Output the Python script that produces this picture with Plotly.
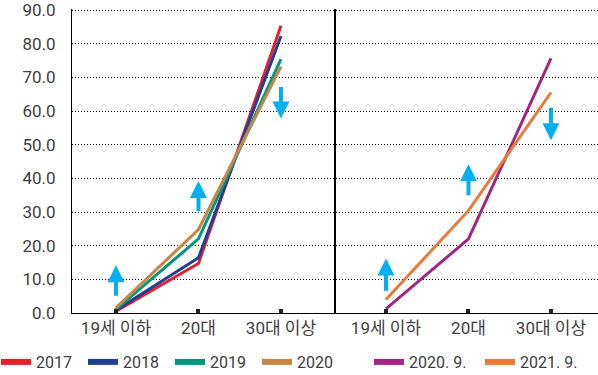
import plotly.graph_objects as go

categories = ["19세 이하", "20대", "30대 이상"]

left_names = ["2017", "2018", "2019", "2020"]
left_values = {
    "2017": [0.5, 14.7, 85.3],
    "2018": [0.8, 16.4, 82.3],
    "2019": [1.1, 22.0, 75.4],
    "2020": [1.5, 24.8, 73.2],
}
right_names = ["2020. 9.", "2021. 9."]
right_values = {
    "2020. 9.": [1.2, 22.0, 75.6],
    "2021. 9.": [4.0, 30.4, 65.5],
}
colors = {
    "2017": "#E3202B",
    "2018": "#233F95",
    "2019": "#00987A",
    "2020": "#C6864A",
    "2020. 9.": "#A1267F",
    "2021. 9.": "#E87B38",
}

y_ticks = [0, 10, 20, 30, 40, 50, 60, 70, 80, 90]
y_tick_labels = [f"{v:.1f}" for v in y_ticks]

# trend arrows: (category index, tail value, tip value)
left_arrows = [(0, 4.7, 14.2), (1, 29.8, 39.2), (2, 67.6, 57.8)]
right_arrows = [(0, 6.2, 16.2), (1, 34.5, 44.2), (2, 61.4, 51.3)]

FONT = "Roboto, Noto Sans CJK KR"
TXT = "#404040"

fig = go.Figure()
for n in left_names:
    fig.add_trace(go.Scatter(x=categories, y=left_values[n], mode="lines",
                             line=dict(color=colors[n], width=3), showlegend=False,
                             xaxis="x", yaxis="y"))
for n in right_names:
    fig.add_trace(go.Scatter(x=categories, y=right_values[n], mode="lines",
                             line=dict(color=colors[n], width=3), showlegend=False,
                             xaxis="x2", yaxis="y2"))
# legend entries
for n in left_names:
    fig.add_trace(go.Scatter(x=[None], y=[None], mode="lines", name=n,
                             line=dict(color=colors[n], width=6), legend="legend",
                             xaxis="x", yaxis="y"))
for n in right_names:
    fig.add_trace(go.Scatter(x=[None], y=[None], mode="lines", name=n,
                             line=dict(color=colors[n], width=6), legend="legend2",
                             xaxis="x2", yaxis="y2"))

annotations = []
for (xr, yr, arrows) in [("x", "y", left_arrows), ("x2", "y2", right_arrows)]:
    for (ci, tail, tip) in arrows:
        annotations.append(dict(x=ci, y=tip, ax=ci, ay=tail, xref=xr, yref=yr,
                                axref=xr, ayref=yr, text="", showarrow=True,
                                arrowhead=2, arrowsize=0.85, arrowwidth=4,
                                arrowcolor="#00B0F0"))

W, H = 598, 375
ml, mt, mb = 72, 9, 62
pw = W - ml
split_l = (334 - ml) / pw
split_r = (336 - ml) / pw

xaxis_common = dict(type="category", showgrid=False, showline=True, linecolor="black",
                    linewidth=1, ticks="inside", ticklen=4, tickwidth=4, tickcolor="#222",
                    tickfont=dict(family=FONT, size=17, color=TXT), zeroline=False,
                    automargin=False)
yaxis_common = dict(range=[0, 90.3], tickvals=y_ticks, showgrid=True, gridcolor="black",
                    gridwidth=1, griddash="1px,2px", zeroline=False, linecolor="black",
                    linewidth=1, automargin=False)

leg_y = 1 - 362 / H
fig.update_layout(
    width=W, height=H,
    margin=dict(l=ml, r=0, t=mt, b=mb),
    paper_bgcolor="white", plot_bgcolor="white",
    xaxis=dict(domain=[0, split_l], range=[-0.533, 2.643], **xaxis_common),
    xaxis2=dict(domain=[split_r, 1], range=[-0.606, 2.57], anchor="y2", **xaxis_common),
    yaxis=dict(ticktext=y_tick_labels, showticklabels=True, showline=True, mirror=True,
               ticks="outside", ticklen=12, tickcolor="rgba(0,0,0,0)",
               ticklabeloverflow="allow",
               tickfont=dict(family=FONT, size=17, color=TXT), **yaxis_common),
    yaxis2=dict(anchor="x2", showticklabels=False, showline=True, ticks="", **yaxis_common),
    annotations=annotations,
    legend=dict(orientation="h", xref="container", yref="container", x=0, y=leg_y,
                xanchor="left", yanchor="middle", font=dict(family=FONT, size=16, color=TXT),
                bgcolor="rgba(0,0,0,0)", entrywidth=46, entrywidthmode="pixels",
                indentation=-4),
    legend2=dict(orientation="h", xref="container", yref="container", x=373 / W, y=leg_y,
                 xanchor="left", yanchor="middle", font=dict(family=FONT, size=16, color=TXT),
                 bgcolor="rgba(0,0,0,0)", entrywidth=70, entrywidthmode="pixels",
                 indentation=-4),
)

fig.write_html("out.html", config={"displayModeBar": False},
               post_script="document.body.style.margin='0px';document.body.style.padding='0px';")
